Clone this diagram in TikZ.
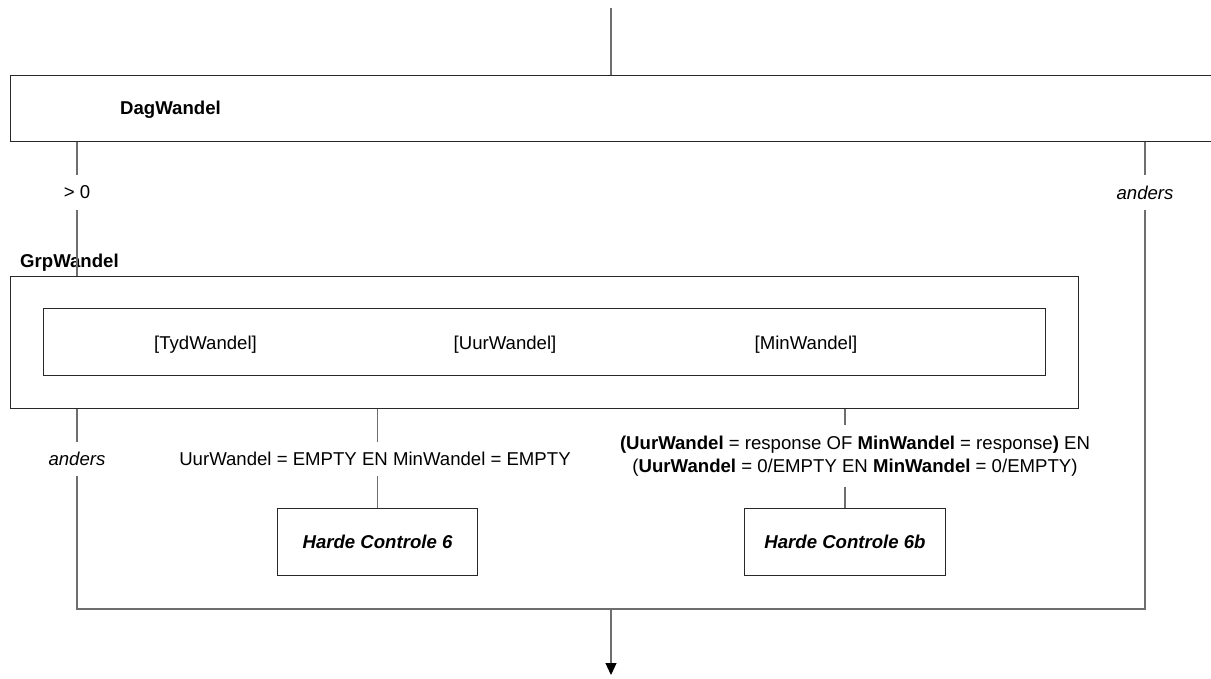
\documentclass[tikz,border=0pt]{standalone}
\usepackage{fontspec}
\setmainfont{Liberation Sans}
\usetikzlibrary{arrows.meta}
\definecolor{linec}{RGB}{110,110,110}
\definecolor{boxc}{RGB}{40,40,40}
\newcommand\dfs{\fontsize{18.6}{23}\selectfont}
\begin{document}
\begin{tikzpicture}[x=1pt,y=-1pt,
  box/.style={draw=boxc, line width=1pt, inner sep=0pt, anchor=north west},
  conn/.style={draw=linec, line width=1.1pt},
  lbl/.style={inner sep=0pt, minimum height=35pt, font=\dfs},
  hdr/.style={anchor=base west, inner sep=0pt, font=\dfs\bfseries},
  item/.style={anchor=base, inner sep=0pt, font=\dfs},
  hc/.style={box, minimum width=200pt, minimum height=67pt, font=\dfs\bfseries\itshape}]
\useasboundingbox (0,0) rectangle (1211,678);
\clip (0,0) rectangle (1211,678);

% top
\coordinate (top) at (611,8);
\node[box, minimum width=1230pt, minimum height=66pt] (dag) at (10,75) {};
\node[hdr] (dagtxt) at (120,114) {DagWandel};
\draw[conn] (top) -- (top |- dag.north);

% branches from DagWandel
\node[lbl] (gt) at (77,192.5) {> 0};
\node[lbl, font=\dfs\itshape] (andR) at (1145,192.5) {anders};

% group
\node[hdr] (grptxt) at (20,267) {GrpWandel};
\node[box, minimum width=1068pt, minimum height=132pt] (grp) at (10,276) {};
\node[box, minimum width=1002pt, minimum height=67pt] (inner) at (43,308) {};
\node[item] (tyd) at (205.5,349) {[TydWandel]};
\node[item] (uur) at (505,349) {[UurWandel]};
\node[item] (min) at (806,349) {[MinWandel]};

\draw[conn] (dag.south -| gt) -- (gt.north);
\draw[conn] (gt.south) -- (grp.north -| gt);
\draw[conn] (dag.south -| andR) -- (andR.north);

% bottom branches
\node[lbl, minimum height=34pt, font=\dfs\itshape] (andL) at (77,459) {anders};
\node[hc] (hc6) at (277,508) {Harde Controle 6};
\node[hc, minimum width=201pt] (hc6b) at (744,508) {Harde Controle 6b};
\node[lbl, minimum height=34pt] (lmid) at (375,459) {UurWandel = EMPTY EN MinWandel = EMPTY};
\node[lbl, minimum height=62pt, align=center] (lright) at (855,456)
  {{\bfseries (UurWandel} = response OF {\bfseries MinWandel} = response{\bfseries )} EN\\
   ({\bfseries UurWandel} = 0/EMPTY EN {\bfseries MinWandel} = 0/EMPTY)};

\draw[conn] (grp.south -| andL) -- (andL.north);
\draw[conn] (grp.south -| hc6) -- (lmid.north -| hc6);
\draw[conn] (lmid.south -| hc6) -- (hc6.north);
\draw[conn] (grp.south -| hc6b) -- (lright.north -| hc6b);
\draw[conn] (lright.south -| hc6b) -- (hc6b.north);

% merge
\coordinate (bl) at (77,609);
\coordinate (br) at (1145,609);
\coordinate (join) at (611,609);
\coordinate (endp) at (611,675);
\draw[conn] (andL.south) -- (bl) -- (br) -- (andR.south);
\draw[conn, -{Triangle[length=12pt,width=11pt,fill=black,color=black]}] (join) -- (endp);
\end{tikzpicture}
\end{document}
